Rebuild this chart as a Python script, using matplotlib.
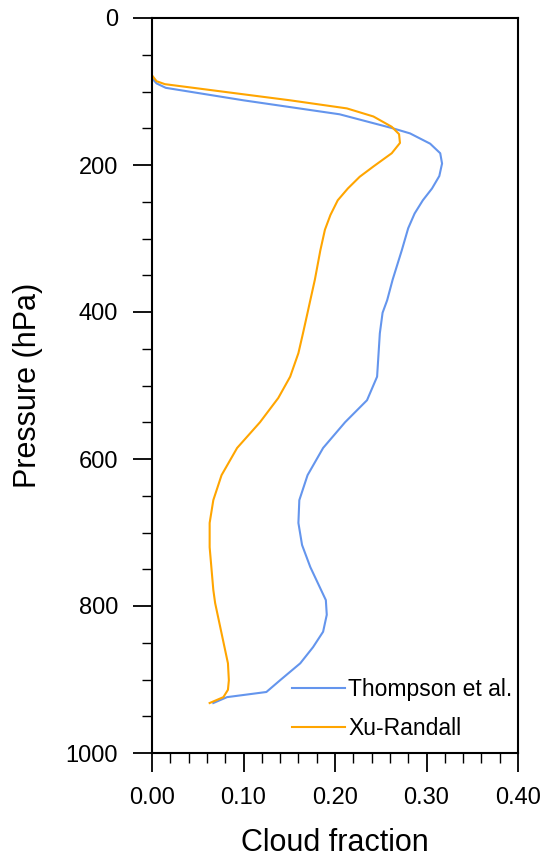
import matplotlib
matplotlib.use('Agg')
import matplotlib.pyplot as plt
from matplotlib.ticker import MultipleLocator

plt.rcParams['font.family'] = ['Liberation Sans', 'DejaVu Sans']

# Thompson et al. cloud fraction profile
thompson_cf = [0.000, 0.005, 0.015, 0.100, 0.205, 0.263, 0.282, 0.304, 0.315, 0.317,
               0.314, 0.306, 0.296, 0.287, 0.280, 0.273, 0.263, 0.257, 0.252, 0.249,
               0.246, 0.235, 0.211, 0.187, 0.170, 0.161, 0.160, 0.164, 0.173, 0.190,
               0.191, 0.187, 0.176, 0.162, 0.140, 0.125, 0.082, 0.067]
thompson_p = [82, 89, 95, 112, 131, 150, 157, 171, 184, 198,
              215, 232, 248, 266, 286, 316, 356, 384, 401, 429,
              488, 520, 550, 585, 622, 656, 687, 717, 747, 792,
              812, 835, 856, 878, 901, 917, 924, 932]

# Xu-Randall cloud fraction profile
xu_cf = [0.000, 0.005, 0.014, 0.151, 0.213, 0.242, 0.262, 0.270, 0.271, 0.262,
         0.242, 0.227, 0.214, 0.203, 0.195, 0.189, 0.184, 0.178, 0.173, 0.170,
         0.165, 0.160, 0.151, 0.138, 0.118, 0.093, 0.076, 0.067, 0.063, 0.063,
         0.067, 0.069, 0.076, 0.083, 0.084, 0.083, 0.078, 0.063]
xu_p = [78, 86, 90, 112, 123, 134, 148, 158, 170, 184,
        202, 216, 232, 248, 268, 288, 316, 356, 384, 401,
        429, 456, 488, 517, 550, 585, 622, 656, 687, 720,
        778, 796, 837, 878, 901, 914, 924, 932]

fig = plt.figure(figsize=(5.45, 8.6), dpi=100)
ax = fig.add_axes([152 / 545, 1 - 753 / 860, 366 / 545, 735 / 860])

ax.plot(thompson_cf, thompson_p, color='#6495ED', lw=1.5, label='Thompson et al.')
ax.plot(xu_cf, xu_p, color='#FFA500', lw=1.5, label='Xu-Randall')

ax.set_xlim(0, 0.40)
ax.set_ylim(1000, 0)
ax.xaxis.set_major_locator(MultipleLocator(0.10))
ax.xaxis.set_minor_locator(MultipleLocator(0.02))
ax.yaxis.set_major_locator(MultipleLocator(200))
ax.yaxis.set_minor_locator(MultipleLocator(50))
ax.xaxis.set_major_formatter(plt.FuncFormatter(lambda v, p: '%.2f' % v))

ax.tick_params(which='major', direction='out', length=13.5, width=1.3,
               labelsize=17, pad=11, top=False, right=False)
ax.tick_params(which='minor', direction='out', length=7, width=1.0,
               top=False, right=False)
for s in ax.spines.values():
    s.set_linewidth(1.5)

ax.set_xlabel('Cloud fraction', fontsize=22, labelpad=14)
ax.set_ylabel('Pressure (hPa)', fontsize=22, labelpad=16)

ax.legend(loc='upper left', bbox_to_anchor=(292 / 545, 1 - 678 / 860),
          bbox_transform=fig.transFigure, frameon=False, fontsize=16.5,
          handlelength=2.3, handletextpad=0.15, labelspacing=0.7,
          borderpad=0, borderaxespad=0)

fig.savefig('out.png', dpi=100)
